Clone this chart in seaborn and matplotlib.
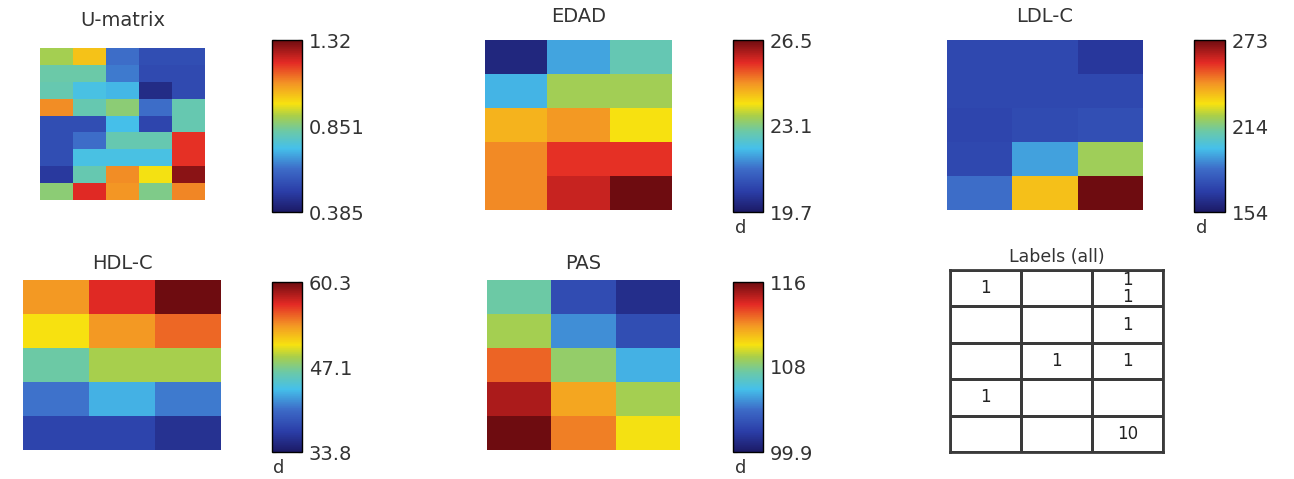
import numpy as np
import pandas as pd
import matplotlib
matplotlib.use("Agg")
import matplotlib.pyplot as plt
from matplotlib.colors import ListedColormap, LinearSegmentedColormap
import seaborn as sns

# ---------------- data ----------------
umatrix = [
    [0.90, 1.02, 0.62, 0.54, 0.54],
    [0.82, 0.82, 0.64, 0.53, 0.53],
    [0.81, 0.74, 0.72, 0.44, 0.53],
    [1.09, 0.81, 0.87, 0.62, 0.81],
    [0.54, 0.54, 0.73, 0.52, 0.81],
    [0.54, 0.62, 0.81, 0.81, 1.19],
    [0.54, 0.74, 0.74, 0.74, 1.19],
    [0.48, 0.81, 1.09, 0.97, 1.29],
    [0.87, 1.20, 1.08, 0.85, 1.10],
]
umatrix_ticks = [0.385, 0.851, 1.32]
umatrix_ticklabels = ["0.385", "0.851", "1.32"]

edad = [
    [20.0, 21.95, 22.76],
    [22.1, 23.44, 23.44],
    [24.46, 24.73, 23.98],
    [24.87, 25.55, 25.55],
    [24.87, 25.82, 26.5],
]
edad_ticks = [19.7, 23.1, 26.5]
edad_ticklabels = ["19.7", "23.1", "26.5"]

ldl = [
    [172, 172, 166],
    [172, 172, 172],
    [171, 173, 174],
    [172, 193, 219],
    [184, 235, 273],
]
ldl_ticks = [154, 213.5, 273]
ldl_ticklabels = ["154", "214", "273"]

hdl = [
    [53.4, 56.9, 60.3],
    [50.5, 53.4, 55.0],
    [46.3, 48.6, 48.6],
    [40.7, 43.1, 41.0],
    [37.5, 37.5, 35.9],
]
hdl_ticks = [33.8, 47.05, 60.3]
hdl_ticklabels = ["33.8", "47.1", "60.3"]

pas = [
    [107.5, 102.5, 101.0],
    [108.8, 104.7, 102.6],
    [112.8, 108.4, 105.5],
    [114.9, 111.5, 108.8],
    [116.0, 112.3, 110.0],
]
pas_ticks = [99.9, 107.95, 116]
pas_ticklabels = ["99.9", "108", "116"]

labels_all = [
    ["1", "", "1\n1"],
    ["", "", "1"],
    ["", "1", "1"],
    ["1", "", ""],
    ["", "", "10"],
]

# ---------------- style ----------------
# muted jet-like colormap as it appears in the reference
jet_muted = LinearSegmentedColormap.from_list("jet_muted", [
    (0.00, "#1c1a66"),
    (0.12, "#2b3ea8"),
    (0.25, "#3d6cc8"),
    (0.37, "#45c0ea"),
    (0.47, "#6cc9a6"),
    (0.56, "#a9cf4a"),
    (0.63, "#f7e210"),
    (0.75, "#f39325"),
    (0.87, "#e42a25"),
    (1.00, "#6e0c10"),
])

W, H = 1294, 479
fig = plt.figure(figsize=(W / 100, H / 100), dpi=100)
sns.set_style("white")
plt.rcParams["font.family"] = ["DejaVu Sans"]
TXT = "#333333"


def box(x0, y0, x1, y1):
    return [x0 / W, 1 - y1 / H, (x1 - x0) / W, (y1 - y0) / H]


panels = [
    ("U-matrix", umatrix, umatrix_ticks, umatrix_ticklabels,
     (40, 48, 205, 200), (272, 40, 302, 212), False, 16),
    ("EDAD", edad, edad_ticks, edad_ticklabels,
     (485, 40, 672, 210), (733, 40, 763, 212), True, 13),
    ("LDL-C", ldl, ldl_ticks, ldl_ticklabels,
     (947, 40, 1143, 210), (1194, 40, 1225, 212), True, 13),
    ("HDL-C", hdl, hdl_ticks, hdl_ticklabels,
     (23, 280, 221, 450), (272, 282, 302, 452), True, 8),
    ("PAS", pas, pas_ticks, pas_ticklabels,
     (487, 280, 680, 450), (733, 282, 763, 452), True, 8),
]

for title, data, ticks, ticklabels, hb, cb, show_d, pad in panels:
    ax = fig.add_axes(box(*hb))
    cax = fig.add_axes(box(*cb))
    df = pd.DataFrame(data)
    sns.heatmap(df, ax=ax, cmap=jet_muted, vmin=ticks[0], vmax=ticks[-1],
                cbar_ax=cax, xticklabels=False, yticklabels=False)
    ax.set_title(title, fontsize=14, color=TXT, pad=pad)
    cbar = ax.collections[0].colorbar
    cbar.set_ticks(ticks)
    cbar.set_ticklabels(ticklabels)
    cbar.outline.set_visible(True)
    cbar.outline.set_linewidth(1.0)
    cbar.outline.set_edgecolor("black")
    cax.tick_params(axis="y", direction="in", length=3, width=0.8,
                    labelsize=14, labelcolor=TXT, pad=5, left=True, right=True)
    cax.set_yticks(ticks)
    cax.set_yticklabels(ticklabels)
    if show_d:
        cax.text(0.05, -0.04, "d", transform=cax.transAxes, ha="left",
                 va="top", fontsize=13, color=TXT)

# Labels table
tax = fig.add_axes(box(950, 270, 1163, 452))
lab_df = pd.DataFrame(labels_all)
sns.heatmap(np.zeros(lab_df.shape), ax=tax, cmap=ListedColormap(["white"]),
            annot=lab_df.values, fmt="", cbar=False, linewidths=2.0,
            linecolor="#3a3a3a", xticklabels=False, yticklabels=False,
            annot_kws={"fontsize": 12, "color": "#222222",
                       "linespacing": 0.95})
for s in tax.spines.values():
    s.set_visible(True)
    s.set_linewidth(2.0)
    s.set_edgecolor("#3a3a3a")
tax.set_title("Labels (all)", fontsize=12.5, color=TXT, pad=6)

fig.savefig("out.png", dpi=100)
